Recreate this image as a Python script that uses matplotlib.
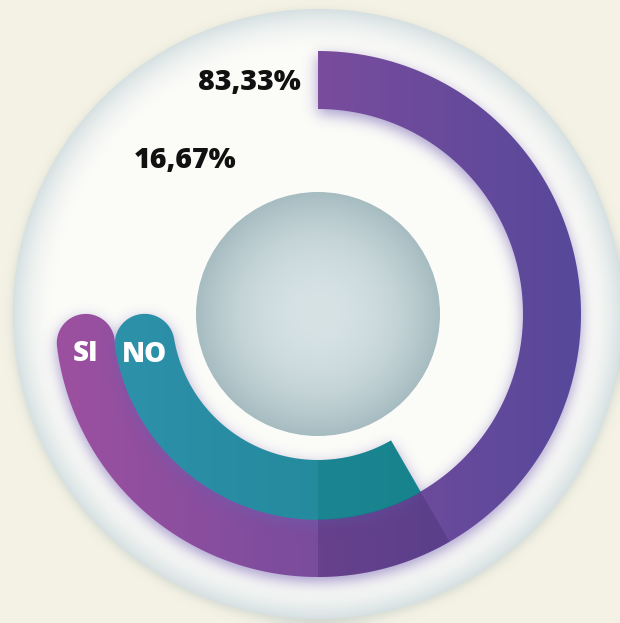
import numpy as np
import matplotlib
matplotlib.use("Agg")
import matplotlib.pyplot as plt
from matplotlib.path import Path
from matplotlib.patches import PathPatch, Circle
from matplotlib.colors import to_rgb

# ---------------- data ----------------
categories = ["SI", "NO"]
values = [83.33, 16.67]
value_labels = ["83,33%", "16,67%"]

# ---------------- style ----------------
W, H = 620, 623
CX, CY = 318, 314
R_DISC = 305
R_HUB = 122
RING_RADII = [(205, 263), (146, 205.8)]          # (inner, outer) for SI, NO
GRAD_COLORS = [("#9d50a0", "#56489a", 57, 582),  # left colour, right colour, x-left, x-right
               ("#2d91aa", "#208797", 116, 420)]
LABEL_ANGLES = [94.5, 118.0]
START_ANGLE = 180.0
BG = "#f4f2e4"


def sweep(v):
    """angular scale of the radial bars (degrees of arc for a value in %)"""
    return 82.5 + 2.25 * v


def polar(r, th_deg):
    t = np.radians(th_deg)
    return CX + r * np.cos(t), CY - r * np.sin(t)


def ring_path(r_in, r_out, th_start, th_end, n=300):
    rm = (r_in + r_out) / 2
    h = (r_out - r_in) / 2
    cap = np.degrees(h / rm)
    ts, te = np.radians(th_start + cap), np.radians(th_end)
    t = np.linspace(ts, te, n)
    outer = np.c_[CX + r_out * np.cos(t), CY - r_out * np.sin(t)]
    inner = np.c_[CX + r_in * np.cos(t[::-1]), CY - r_in * np.sin(t[::-1])]
    c = np.array([CX + rm * np.cos(ts), CY - rm * np.sin(ts)])
    ur = np.array([np.cos(ts), -np.sin(ts)])
    tdec = np.array([np.sin(ts), np.cos(ts)])
    phi = np.linspace(0, np.pi, 80)
    capv = c + h * (-np.cos(phi)[:, None] * ur + np.sin(phi)[:, None] * tdec)
    verts = np.vstack([outer, inner, capv, outer[:1]])
    codes = [Path.MOVETO] + [Path.LINETO] * (len(verts) - 2) + [Path.CLOSEPOLY]
    return Path(verts, codes)


def sector_path(r_in, r_out, th0, th1, n=100):
    t = np.radians(np.linspace(th0, th1, n))
    outer = np.c_[CX + r_out * np.cos(t), CY - r_out * np.sin(t)]
    inner = np.c_[CX + r_in * np.cos(t[::-1]), CY - r_in * np.sin(t[::-1])]
    verts = np.vstack([outer, inner, outer[:1]])
    codes = [Path.MOVETO] + [Path.LINETO] * (len(verts) - 2) + [Path.CLOSEPOLY]
    return Path(verts, codes)


# pixel grid helpers
yy, xx = np.mgrid[0:H, 0:W] + 0.5
RR = np.hypot(xx - CX, yy - CY)


def gauss_matrix(n, sigma):
    i = np.arange(n)
    g = np.exp(-0.5 * ((i[:, None] - i[None, :]) / sigma) ** 2)
    return g / g.sum(axis=0, keepdims=True)


def blur(mask, sigma):
    gy = gauss_matrix(H, sigma)
    gx = gauss_matrix(W, sigma)
    return gy.T @ mask @ gx


def shadow_img(path, color, alpha, sigma, dx=0, dy=0):
    pts = np.c_[xx.ravel() - dx, yy.ravel() - dy]
    m = path.contains_points(pts).reshape(H, W).astype(float)
    b = blur(m, sigma)
    img = np.zeros((H, W, 4))
    img[..., :3] = to_rgb(color)
    img[..., 3] = np.clip(b * alpha, 0, 1)
    return img


fig = plt.figure(figsize=(W / 100, H / 100), dpi=100, facecolor=BG)
ax = fig.add_axes([0, 0, 1, 1])
ax.set_xlim(0, W)
ax.set_ylim(H, 0)
ax.axis("off")
ax.set_facecolor(BG)
EXT = (0, W, H, 0)

# disc shadow
disc = Circle((CX, CY), R_DISC)
disc_path = disc.get_path().transformed(disc.get_patch_transform())
ax.imshow(shadow_img(disc_path, "#a9b8ba", 0.45, 5, 0, 3), extent=EXT, zorder=1, interpolation="bilinear")

# disc face with rim gradient
t = np.clip((RR - (R_DISC - 40)) / 40, 0, 1) ** 1.8
c_in, c_rim = np.array(to_rgb("#fbfbf8")), np.array(to_rgb("#d6e0e2"))
face = np.zeros((H, W, 4))
face[..., :3] = c_in * (1 - t[..., None]) + c_rim * t[..., None]
face[..., 3] = 1
im = ax.imshow(face, extent=EXT, zorder=2, interpolation="bilinear")
dpatch = Circle((CX, CY), R_DISC, transform=ax.transData, facecolor="none", edgecolor="none")
ax.add_patch(dpatch)
im.set_clip_path(dpatch)

# hub sphere
th = np.clip(RR / R_HUB, 0, 1) ** 2.2
h_in, h_out = np.array(to_rgb("#d6e2e4")), np.array(to_rgb("#a6bcc1"))
hub = np.zeros((H, W, 4))
hub[..., :3] = h_in * (1 - th[..., None]) + h_out * th[..., None]
hub[..., 3] = 1
im = ax.imshow(hub, extent=EXT, zorder=3, interpolation="bilinear")
hpatch = Circle((CX, CY), R_HUB, transform=ax.transData, facecolor="none", edgecolor="none")
ax.add_patch(hpatch)
im.set_clip_path(hpatch)

# radial bars
for i, (cat, v) in enumerate(zip(categories, values)):
    r_in, r_out = RING_RADII[i]
    p = ring_path(r_in, r_out, START_ANGLE, START_ANGLE + sweep(v))
    z = 4 + 2 * i
    ax.imshow(shadow_img(p, "#6f5cb0", 0.6, 7, 0, 5), extent=EXT, zorder=z, interpolation="bilinear")
    cl, cr, xl, xr = GRAD_COLORS[i]
    g = np.clip((xx - xl) / (xr - xl), 0, 1)
    img = np.zeros((H, W, 4))
    img[..., :3] = np.array(to_rgb(cl)) * (1 - g[..., None]) + np.array(to_rgb(cr)) * g[..., None]
    img[..., 3] = 1
    im = ax.imshow(img, extent=EXT, zorder=z + 1, interpolation="bilinear")
    pp = PathPatch(p, facecolor="none", edgecolor="none", transform=ax.transData)
    ax.add_patch(pp)
    im.set_clip_path(pp)

# fold shading between 6 o'clock and the end of the NO bar
fold_end = START_ANGLE + sweep(values[1])
ax.add_patch(PathPatch(sector_path(RING_RADII[0][0], RING_RADII[0][1], 270, fold_end),
                       facecolor="#24144a", edgecolor="none", alpha=0.2, zorder=9))
ax.add_patch(PathPatch(sector_path(RING_RADII[1][0], RING_RADII[1][1] - 0.8, 270, fold_end),
                       facecolor="#007a70", edgecolor="none", alpha=0.25, zorder=9))

# labels
font = ["Open Sans", "DejaVu Sans"]
for i, (cat, lab) in enumerate(zip(categories, value_labels)):
    r_in, r_out = RING_RADII[i]
    rm = (r_in + r_out) / 2
    x, y = polar(rm, LABEL_ANGLES[i])
    ax.text(x + 1, y + 2, lab, ha="right", va="center", fontsize=20.5, fontweight=800,
            family=font, color="#111111", zorder=10)
    cap = np.degrees(((r_out - r_in) / 2) / rm)
    cx, cy = polar(rm, START_ANGLE + cap)
    ax.text(cx, cy + 11, cat, ha="center", va="center", fontsize=20, fontweight=800,
            family=font, color="white", zorder=10)

fig.savefig("out.png", dpi=100, facecolor=BG)
